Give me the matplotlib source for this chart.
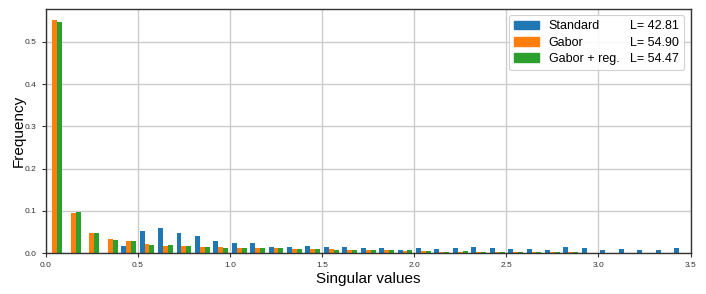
import numpy as np
import matplotlib
matplotlib.use("Agg")
import matplotlib.pyplot as plt
from matplotlib.patches import Patch

plt.rcParams['font.family'] = ['Liberation Sans', 'DejaVu Sans']

bin_edges = [round(0.1 * i, 1) for i in range(36)]

standard = [0.0, 0.0, 0.0, 0.0, 0.016, 0.052, 0.059, 0.0465, 0.041, 0.028,
            0.025, 0.024, 0.015, 0.0134, 0.018, 0.015, 0.0134, 0.0126, 0.011, 0.007,
            0.0118, 0.010, 0.0118, 0.0134, 0.0118, 0.010, 0.010, 0.008, 0.0134, 0.0118,
            0.007, 0.0095, 0.0063, 0.0063, 0.011]
gabor = [0.551, 0.0946, 0.0465, 0.033, 0.028, 0.021, 0.018, 0.016, 0.014, 0.0134,
         0.0126, 0.011, 0.011, 0.010, 0.0095, 0.0087, 0.007, 0.007, 0.0063, 0.0047,
         0.0047, 0.003, 0.0024, 0.0024, 0.0024, 0.0022, 0.0022, 0.0018, 0.0018, 0.0015,
         0.0015, 0.0012, 0.0012, 0.001, 0.001]
gabor_reg = [0.548, 0.097, 0.047, 0.032, 0.028, 0.019, 0.019, 0.016, 0.015, 0.013,
             0.012, 0.012, 0.011, 0.0087, 0.0095, 0.008, 0.0063, 0.0063, 0.0063, 0.0063,
             0.0047, 0.0024, 0.004, 0.0024, 0.0024, 0.0022, 0.002, 0.0018, 0.0018, 0.0015,
             0.0015, 0.0012, 0.0012, 0.001, 0.001]

series_names = ["Standard", "Gabor", "Gabor + reg."]
series_L = ["L= 42.81", "L= 54.90", "L= 54.47"]
colors = ["#1f77b4", "#ff7f0e", "#2ca02c"]

centers = [(bin_edges[i] + bin_edges[i + 1]) / 2 for i in range(len(bin_edges) - 1)]

fig = plt.figure(figsize=(7.06, 2.94), dpi=100)
ax = fig.add_axes([0.0647, 0.139, 0.9135, 0.830])

ax.hist([centers, centers, centers], bins=bin_edges,
        weights=[standard, gabor, gabor_reg], color=colors, label=series_names)

ax.set_xlim(0, 3.5)
ax.set_ylim(0, 0.5775)
ax.set_xticks([0.0, 0.5, 1.0, 1.5, 2.0, 2.5, 3.0, 3.5])
ax.set_yticks([0.0, 0.1, 0.2, 0.3, 0.4, 0.5])
ax.set_axisbelow(True)
ax.grid(True, color="#cccccc", linewidth=1.0)
ax.tick_params(labelsize=6, colors="#333333", length=3, width=0.8)
for s in ax.spines.values():
    s.set_color("#333333")
    s.set_linewidth(1.0)

ax.set_xlabel("Singular values", fontsize=11, labelpad=2)
ax.set_ylabel("Frequency", fontsize=11, labelpad=-1)

handles = [Patch(color=c) for c in colors] + [Patch(alpha=0) for _ in colors]
labels = series_names + series_L
leg = ax.legend(handles, labels, ncol=2, loc="upper right", fontsize=9,
                handlelength=2.0, columnspacing=-1.9, handletextpad=0.8,
                framealpha=0.9, edgecolor="#cccccc", borderpad=0.4,
                labelspacing=0.35)
for h in leg.legend_handles[3:]:
    h.set_visible(False)
leg.get_frame().set_linewidth(0.8)

fig.savefig("out.png", dpi=100)
